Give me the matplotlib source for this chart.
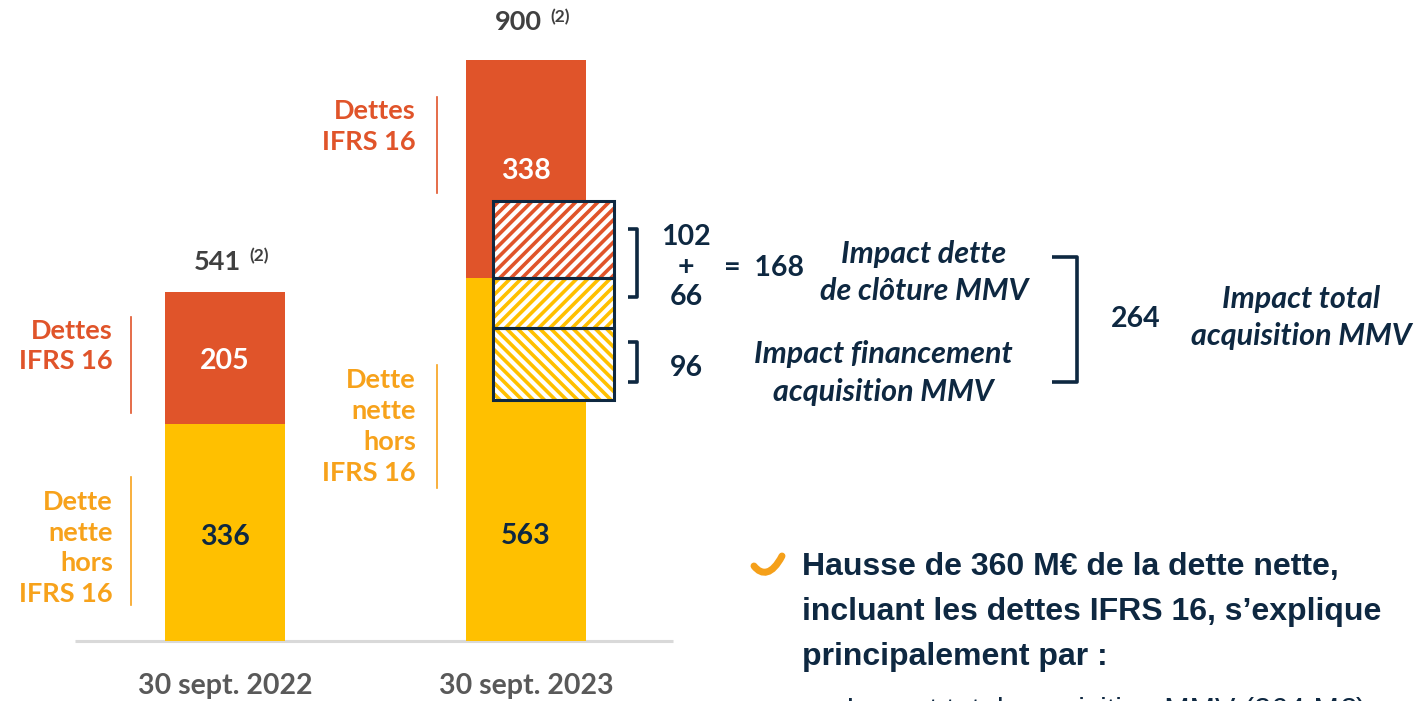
import matplotlib
matplotlib.use("Agg")
import matplotlib.pyplot as plt
from matplotlib.patches import Rectangle, PathPatch
from matplotlib.path import Path

# ---------------- data ----------------
categories = ["30 sept. 2022", "30 sept. 2023"]
dette_hors_ifrs16 = [336, 563]
dettes_ifrs16 = [205, 338]
totals = [541, 900]
total_note = "(2)"
segment_labels_lower = ["Dette\nnette\nhors\nIFRS 16", "Dette\nnette\nhors\nIFRS 16"]
segment_labels_upper = ["Dettes\nIFRS 16", "Dettes\nIFRS 16"]

mmv_cloture_ifrs16 = 102
mmv_cloture_hors = 66
mmv_financement = 96
mmv_cloture_total = 168
mmv_total = 264

bullet_text = "Hausse de 360 M€ de la dette nette,\nincluant les dettes IFRS 16, s’explique\nprincipalement par :"
sub_bullet = "–  Impact total acquisition MMV (264 M€)"

# ---------------- styles ----------------
ORANGE = "#E0542A"
YELLOW = "#FFC000"
LBL_YEL = "#F7A21B"
NAVY = "#0E2841"
GRAY_T = "#404040"
GRAY_X = "#595959"
COND = "Lato"

plt.rcParams["hatch.linewidth"] = 2.6

fig = plt.figure(figsize=(14.2, 7.01), dpi=100)
ax = fig.add_axes([0, 0, 1, 1])
PXU = 0.645                       # pixels per unit
base_px = 641
ax.set_xlim(0, 1420)
ax.set_ylim(-(701 - base_px) / PXU, base_px / PXU)
ax.axis("off")

# overlay in pixel coordinates for annotations
ov = fig.add_axes([0, 0, 1, 1], facecolor="none")
ov.set_xlim(0, 1420)
ov.set_ylim(701, 0)
ov.axis("off")

xpos = [225, 526]
bw = 120
ax.bar(xpos, dette_hors_ifrs16, width=bw, color=YELLOW, zorder=2)
ax.bar(xpos, dettes_ifrs16, bottom=dette_hors_ifrs16, width=bw, color=ORANGE, zorder=2)

# baseline
ax.plot([75, 673], [0, 0], color="#D9D9D9", lw=2.2, zorder=1, solid_capstyle="butt")

# segment value labels
low_frac = [0.48, 0.29]
tot_off = [47, 60]
for i, x in enumerate(xpos):
    ax.text(x, dette_hors_ifrs16[i] * low_frac[i], str(dette_hors_ifrs16[i]), ha="center", va="center",
            color=NAVY, fontsize=20.5, fontweight="bold", family=COND)
    ax.text(x, dette_hors_ifrs16[i] + dettes_ifrs16[i] * 0.5 - 4,
            str(dettes_ifrs16[i]), ha="center", va="center",
            color="white", fontsize=20.5, fontweight="bold", family=COND)
    # totals
    ax.text(x + 16, totals[i] + tot_off[i], str(totals[i]), ha="right", va="center",
            color=GRAY_T, fontsize=19.5, fontweight="bold", family=COND)
    ax.text(x + 24, totals[i] + tot_off[i] + 8, total_note, ha="left", va="center",
            color=GRAY_T, fontsize=12.5, fontweight="bold", family=COND)
    # category labels
    ov.text(x, 686, categories[i], ha="center", va="center", color=GRAY_X,
            fontsize=20.5, fontweight="bold", family=COND)

# side labels and thin lines
lab_x = [113, 416]
line_x = [131, 437]
upper_y = [(317, 413), (97, 193)]
lower_y = [(477, 605), (365, 488)]
upper_ty = [346, 126.5]
lower_ty = [548, 426.5]
for i in range(2):
    y0, y1 = upper_y[i]
    ov.plot([line_x[i]] * 2, [y0, y1], color=ORANGE, lw=1.2)
    ov.text(lab_x[i], upper_ty[i], segment_labels_upper[i], ha="right", va="center",
            color=ORANGE, fontsize=19.5, fontweight="bold", family=COND, linespacing=1.32)
    y0, y1 = lower_y[i]
    ov.plot([line_x[i]] * 2, [y0, y1], color=LBL_YEL, lw=1.2)
    ov.text(lab_x[i], lower_ty[i], segment_labels_lower[i], ha="right", va="center",
            color=LBL_YEL, fontsize=19.5, fontweight="bold", family=COND, linespacing=1.34)

# hatched boxes (acquisition MMV)
BOX_K = 1.17
hx0, hw = 493, 121
top_yel = dette_hors_ifrs16[1]
boxes = [
    (top_yel, mmv_cloture_ifrs16 * BOX_K, ORANGE, "///"),
    (top_yel - mmv_cloture_hors * BOX_K, mmv_cloture_hors * BOX_K, YELLOW, "///"),
    (top_yel - (mmv_cloture_hors + mmv_financement) * BOX_K, mmv_financement * BOX_K, YELLOW, "\\\\\\"),
]
for b, h, c, hp in boxes:
    ax.add_patch(Rectangle((hx0, b), hw, h, facecolor="white", edgecolor="none", zorder=3))
    ax.add_patch(Rectangle((hx0, b), hw, h, facecolor="none", edgecolor=c, hatch=hp, lw=0, zorder=4))
    ax.add_patch(Rectangle((hx0, b), hw, h, facecolor="none", edgecolor=NAVY, lw=2.2, zorder=5))


def bracket(x, y0, y1, tick):
    ov.plot([x - tick, x, x, x - tick], [y0, y0, y1, y1], color=NAVY, lw=2.6,
            solid_joinstyle="round", solid_capstyle="butt")


bracket(637, 229, 297, 9)
bracket(637, 342, 382, 9)
bracket(1077, 257, 382, 25)

num_kw = dict(color=NAVY, fontsize=20.5, fontweight="bold", family=COND, ha="center", va="center")
ov.text(686, 237, str(mmv_cloture_ifrs16), **num_kw)
ov.text(686, 267, "+", **num_kw)
ov.text(686, 297, str(mmv_cloture_hors), **num_kw)
ov.text(764, 268, "=  " + str(mmv_cloture_total), **num_kw)
ov.text(686, 368, str(mmv_financement), **num_kw)
ov.text(1136, 319, str(mmv_total), **num_kw)

it_kw = dict(color=NAVY, fontsize=22, fontweight="bold", style="italic", family=COND,
             ha="center", va="center", linespacing=1.42)
ov.text(924, 272.5, "Impact dette\nde clôture MMV", **it_kw)
ov.text(883, 373, "Impact financement\nacquisition MMV", **it_kw)
ov.text(1301, 317.5, "Impact total\nacquisition MMV", **it_kw)

# bullet
ck = Path([(754, 566), (762, 576), (772, 575), (782, 556)],
          [Path.MOVETO, Path.CURVE4, Path.CURVE4, Path.CURVE4])
ov.add_patch(PathPatch(ck, facecolor="none", edgecolor="#F5A01A", lw=5, capstyle="round"))
ov.text(802, 612, bullet_text, ha="left", va="center", color=NAVY, fontsize=23,
        fontweight="bold", family="Liberation Sans", linespacing=1.64)
ov.text(812, 712, sub_bullet, ha="left", va="center", color=NAVY, fontsize=22,
        family="Liberation Sans", clip_on=False)

fig.savefig("out.png", dpi=100)
